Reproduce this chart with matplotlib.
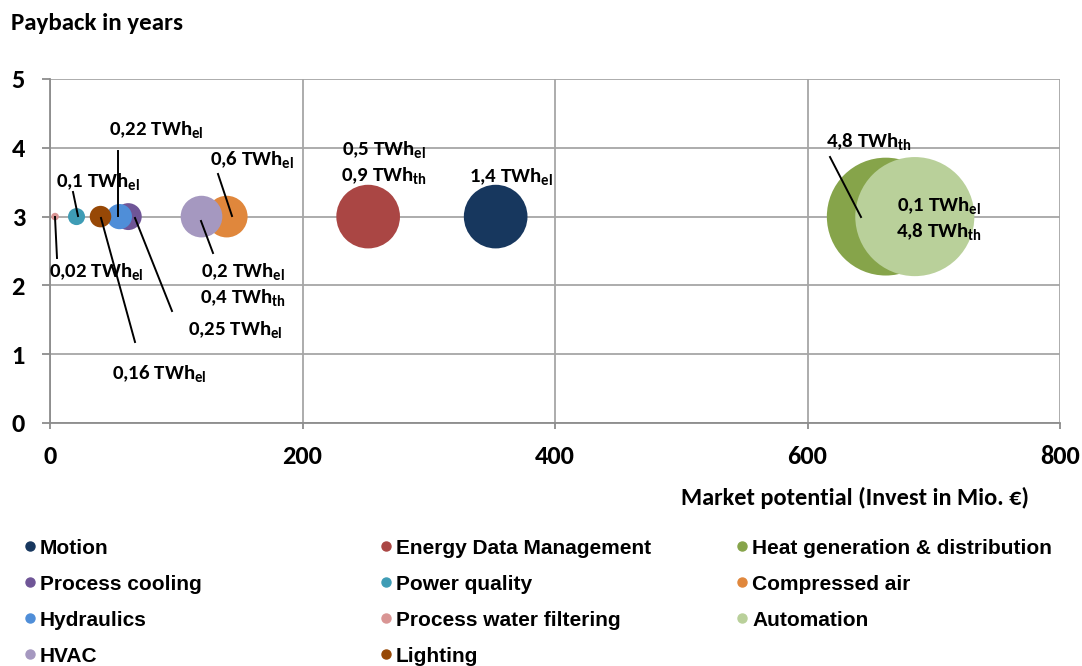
import matplotlib
matplotlib.use("Agg")
import matplotlib.pyplot as plt
from matplotlib import font_manager as fm
from matplotlib.lines import Line2D

names = set(f.name for f in fm.fontManager.ttflist)
main_font = "Carlito" if "Carlito" in names else "DejaVu Sans"
leg_font = "Liberation Sans" if "Liberation Sans" in names else "DejaVu Sans"

plt.rcParams["mathtext.fontset"] = "custom"
plt.rcParams["mathtext.rm"] = main_font + ":bold"
plt.rcParams["mathtext.bf"] = main_font + ":bold"
plt.rcParams["font.family"] = main_font

# data
series = ["Motion", "Energy Data Management", "Heat generation & distribution",
          "Process cooling", "Power quality", "Compressed air",
          "Hydraulics", "Process water filtering", "Automation",
          "HVAC", "Lighting"]
invest = [353, 252, 662, 62, 21, 140, 55, 4, 685, 120, 40]
payback = [3, 3, 3, 3, 3, 3, 3, 3, 3, 3, 3]
twh = [1.4, 1.4, 4.8, 0.25, 0.1, 0.6, 0.22, 0.02, 4.9, 0.6, 0.16]
colors = ["#17375E", "#AA4644", "#86A44A", "#6F5597", "#3E9CB5", "#E0873C",
          "#4F8ED8", "#D99594", "#B9D09A", "#A598C0", "#974806"]
x_ticks = [0, 200, 400, 600, 800]
y_ticks = [0, 1, 2, 3, 4, 5]

W, H = 1082, 666
fig = plt.figure(figsize=(W / 100, H / 100), dpi=100)
ax = fig.add_axes([50 / W, 1 - 423 / H, 1010 / W, 344 / H])

for i in range(len(series)):
    ax.scatter(invest[i], payback[i], s=twh[i] * 1500, color=colors[i],
               edgecolors="none", zorder=3 + i)

ax.set_xlim(0, 800)
ax.set_ylim(0, 5)
ax.set_xticks(x_ticks)
ax.set_yticks(y_ticks)
ax.grid(True, color="#A6A6A6", lw=1.3, zorder=0)
for s in ["top", "right"]:
    ax.spines[s].set_visible(False)
for s in ["left", "bottom"]:
    ax.spines[s].set_color("#8C8C8C")
    ax.spines[s].set_linewidth(1.3)
ax.tick_params(axis="y", length=6, color="#8C8C8C", width=1.3, pad=12)
ax.tick_params(axis="x", length=4, color="#8C8C8C", width=1.3, pad=12)
for t in ax.get_xticklabels() + ax.get_yticklabels():
    t.set_fontsize(19)
    t.set_fontweight("bold")


def px(x, y):
    return x / W, 1 - y / H


fig.text(*px(11, 30), "Payback in years", fontsize=18, fontweight="bold",
         va="baseline", ha="left")
fig.text(*px(1029, 505), "Market potential (Invest in Mio. \u20ac)", fontsize=17.5,
         fontweight="bold", va="baseline", ha="right")


def lab(x, y, s):
    fig.text(*px(x, y + 7), s, fontsize=15, fontweight="bold", ha="center",
             va="baseline", zorder=20)


def leader(x1, y1, x2, y2):
    fig.add_artist(Line2D([x1 / W, x2 / W], [1 - y1 / H, 1 - y2 / H],
                          color="black", lw=1.4, zorder=19))


el = r"$_{\mathrm{el}}$"
th = r"$_{\mathrm{th}}$"

lab(156, 128, "0,22 TWh" + el); leader(118, 151, 118, 216)
lab(98, 180, "0,1 TWh" + el); leader(73, 192, 78, 216)
lab(96, 270, "0,02 TWh" + el); leader(57, 258, 55, 217)
lab(159, 372, "0,16 TWh" + el); leader(101, 218, 135, 342)
lab(235, 328, "0,25 TWh" + el); leader(135, 218, 172, 311)
lab(252, 158, "0,6 TWh" + el); leader(218, 174, 232, 216)
lab(243, 270, "0,2 TWh" + el); lab(243, 296, "0,4 TWh" + th); leader(201, 221, 213, 253)
lab(384, 148, "0,5 TWh" + el); lab(384, 174, "0,9 TWh" + th)
lab(511, 175, "1,4 TWh" + el)
lab(869, 140, "4,8 TWh" + th); leader(830, 157, 861, 217)
lab(939, 204, "0,1 TWh" + el); lab(939, 230, "4,8 TWh" + th)

# legend, laid out as in the original (3 columns, row-wise)
col_x = [30, 386, 742]
row_y = [546, 582, 618, 654]
for i, name in enumerate(series):
    cx = col_x[i % 3]
    cy = row_y[i // 3]
    fig.add_artist(Line2D([cx / W], [1 - cy / H], marker="o", ls="none",
                          color=colors[i], markersize=6.5))
    fig.text(*px(cx + 10, cy + 7.5), name, fontsize=15, fontweight="bold",
             family=leg_font, ha="left", va="baseline")

fig.savefig("out.png", dpi=100)
